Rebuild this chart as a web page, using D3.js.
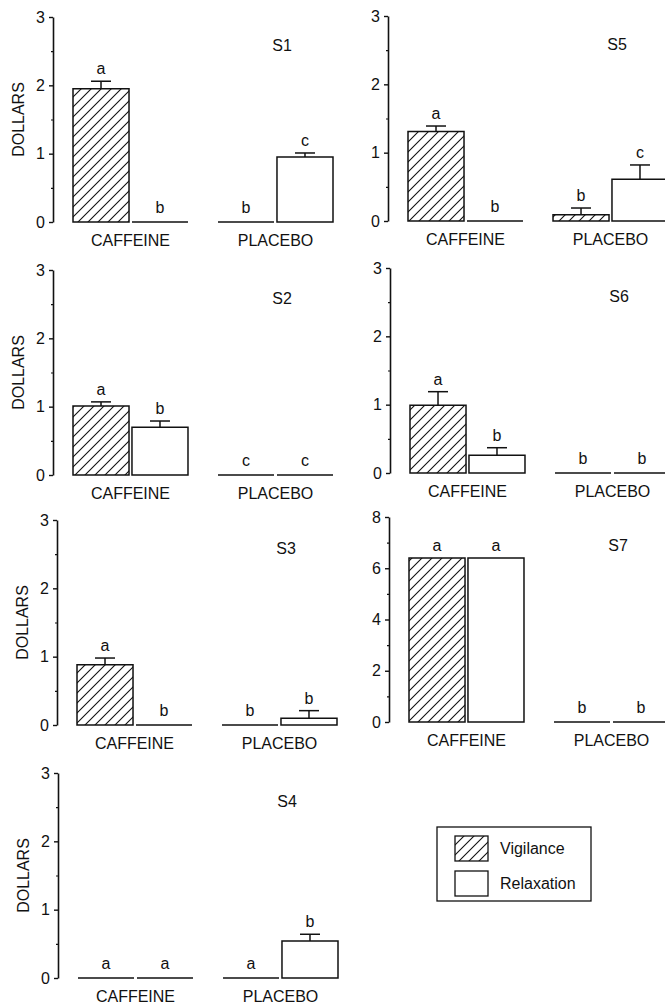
<!DOCTYPE html>
<html><head><meta charset="utf-8">
<script src="https://cdn.jsdelivr.net/npm/d3@7"></script>
<style>body{margin:0;background:#fff}svg{display:block;font-family:"Liberation Sans",Arial,Helvetica,sans-serif}</style>
</head><body><svg id="c" width="665" height="1004"></svg>
<script>
// ---- data ----
const groups = ["CAFFEINE", "PLACEBO"];
const seriesNames = ["Vigilance", "Relaxation"];
const subjects = ["S1", "S2", "S3", "S4", "S5", "S6", "S7"];
// order: caffeine-vigilance, caffeine-relaxation, placebo-vigilance, placebo-relaxation
const meansS1 = [1.95, 0, 0, 0.95];
const errS1 = [0.11, 0, 0, 0.06];
const lettersS1 = ["a", "b", "b", "c"];
const meansS2 = [1.01, 0.70, 0, 0];
const errS2 = [0.06, 0.09, 0, 0];
const lettersS2 = ["a", "b", "c", "c"];
const meansS3 = [0.88, 0, 0, 0.10];
const errS3 = [0.10, 0, 0, 0.11];
const lettersS3 = ["a", "b", "b", "b"];
const meansS4 = [0, 0, 0, 0.54];
const errS4 = [0, 0, 0, 0.10];
const lettersS4 = ["a", "a", "a", "b"];
const meansS5 = [1.31, 0, 0.09, 0.61];
const errS5 = [0.08, 0, 0.10, 0.21];
const lettersS5 = ["a", "b", "b", "c"];
const meansS6 = [0.99, 0.26, 0, 0];
const errS6 = [0.20, 0.11, 0, 0];
const lettersS6 = ["a", "b", "b", "b"];
const meansS7 = [6.4, 6.4, 0, 0];
const errS7 = [0, 0, 0, 0];
const lettersS7 = ["a", "a", "b", "b"];
const yMax3 = 3, yMax8 = 8;
const yTicks3 = [0, 1, 2, 3];
const yMinor3 = [0.5, 1.5, 2.5];
const yTicks8 = [0, 2, 4, 6, 8];
const yMinor8 = [1, 3, 5, 7];
const yTitle = "DOLLARS";

const subjectData = {
  S1: [meansS1, errS1, lettersS1], S2: [meansS2, errS2, lettersS2],
  S3: [meansS3, errS3, lettersS3], S4: [meansS4, errS4, lettersS4],
  S5: [meansS5, errS5, lettersS5], S6: [meansS6, errS6, lettersS6],
  S7: [meansS7, errS7, lettersS7]
};

// ---- layout (pixel placement of each panel) ----
const layout = {
  S1: {ax: 53, y0: 222}, S2: {ax: 53, y0: 475}, S3: {ax: 57, y0: 725}, S4: {ax: 58, y0: 978},
  S5: {ax: 388, y0: 221}, S6: {ax: 390, y0: 473}, S7: {ax: 389, y0: 722}
};
const H = 205;
const FONT = "Liberation Sans, Arial, Helvetica, sans-serif";

const svg = d3.select("#c");
const defs = svg.append("defs");
const pat = defs.append("pattern").attr("id", "hatch").attr("patternUnits", "userSpaceOnUse")
  .attr("width", 10).attr("height", 10);
pat.append("rect").attr("width", 10).attr("height", 10).attr("fill", "#fff");
pat.append("path").attr("d", "M-2,2 L2,-2 M0,10 L10,0 M8,12 L12,8")
  .attr("stroke", "#111").attr("stroke-width", 1.1);

const fill = d3.scaleOrdinal().domain(seriesNames).range(["url(#hatch)", "#fff"]);

subjects.forEach(s => {
  const [means, errs, letters] = subjectData[s];
  const L = layout[s];
  const big = s === "S7";
  const y = d3.scaleLinear().domain([0, big ? yMax8 : yMax3]).range([L.y0, L.y0 - H]);
  const xg = d3.scaleBand().domain(groups).range([L.ax + 20, L.ax + 280]).paddingInner(0.207).paddingOuter(0);
  const xs = d3.scaleBand().domain(seriesNames).range([0, xg.bandwidth()]).paddingInner(0.05);
  const g = svg.append("g");

  // axis
  const major = d3.axisLeft(y).tickValues(big ? yTicks8 : yTicks3).tickFormat(d3.format("d"))
    .tickSize(4).tickSizeOuter(0).tickPadding(4);
  const ga = g.append("g").attr("transform", `translate(${L.ax},0)`).call(major);
  ga.attr("font-family", FONT).attr("font-size", 16);
  ga.select(".domain").attr("stroke", "#111").attr("stroke-width", 1.6);
  ga.selectAll(".tick line").attr("stroke", "#111").attr("stroke-width", 1.4);
  ga.selectAll(".tick text").attr("fill", "#111");
  const minor = d3.axisLeft(y).tickValues(big ? yMinor8 : yMinor3).tickSize(2).tickSizeOuter(0).tickFormat("");
  const gm = g.append("g").attr("transform", `translate(${L.ax},0)`).call(minor);
  gm.select(".domain").remove();
  gm.selectAll(".tick line").attr("stroke", "#111").attr("stroke-width", 1.2);

  // y title (left column only)
  if (L.ax < 200) {
    g.append("text").attr("transform", `translate(${L.ax - 33},${y(1.5)}) rotate(-90)`)
      .attr("text-anchor", "middle").attr("dominant-baseline", "middle")
      .attr("font-size", 16).attr("fill", "#111").text(yTitle);
  }

  // bars
  const rows = [];
  groups.forEach((gr, gi) => seriesNames.forEach((se, si) => {
    const i = gi * 2 + si;
    rows.push({gr, se, v: means[i], e: errs[i], l: letters[i]});
  }));
  const X = d => xg(d.gr) + xs(d.se);
  const W = xs.bandwidth();
  g.selectAll("path.bar").data(rows).join("path").attr("class", "bar")
    .attr("d", d => `M${X(d)},${y(0)}V${y(d.v)}H${X(d) + W}V${y(0)}Z`)
    .attr("fill", d => fill(d.se)).attr("stroke", "#111").attr("stroke-width", 1.5);

  // error bars
  const eb = rows.filter(d => d.e > 0);
  g.selectAll("line.ev").data(eb).join("line").attr("class", "ev")
    .attr("x1", d => X(d) + W / 2).attr("x2", d => X(d) + W / 2)
    .attr("y1", d => y(d.v)).attr("y2", d => y(d.v + d.e))
    .attr("stroke", "#111").attr("stroke-width", 1.5);
  g.selectAll("line.ec").data(eb).join("line").attr("class", "ec")
    .attr("x1", d => X(d) + W / 2 - 10).attr("x2", d => X(d) + W / 2 + 10)
    .attr("y1", d => y(d.v + d.e)).attr("y2", d => y(d.v + d.e))
    .attr("stroke", "#111").attr("stroke-width", 1.5);

  // letters
  g.selectAll("text.lt").data(rows).join("text").attr("class", "lt")
    .attr("x", d => X(d) + W / 2)
    .attr("y", d => Math.min(y(d.v + d.e) - 7, y(0) - 9))
    .attr("text-anchor", "middle").attr("font-size", 16).attr("fill", "#111").text(d => d.l);

  // category labels
  g.selectAll("text.cat").data(groups).join("text").attr("class", "cat")
    .attr("x", d => xg(d) + xg.bandwidth() / 2).attr("y", L.y0 + 24)
    .attr("text-anchor", "middle").attr("font-size", 16).attr("fill", "#111").text(d => d);

  // panel title
  g.append("text").attr("x", L.ax + 229).attr("y", L.y0 - H + 34)
    .attr("text-anchor", "middle").attr("font-size", 16).attr("fill", "#111").text(s);
});

// legend
const lg = svg.append("g");
lg.append("rect").attr("x", 437).attr("y", 827).attr("width", 154).attr("height", 74)
  .attr("fill", "#fff").attr("stroke", "#111").attr("stroke-width", 1.3);
seriesNames.forEach((se, i) => {
  lg.append("rect").attr("x", 455).attr("y", 836 + i * 35).attr("width", 33).attr("height", 25)
    .attr("fill", fill(se)).attr("stroke", "#111").attr("stroke-width", 1.3);
  lg.append("text").attr("x", 500).attr("y", 854 + i * 35).attr("font-size", 16).attr("fill", "#111").text(se);
});
</script></body></html>
